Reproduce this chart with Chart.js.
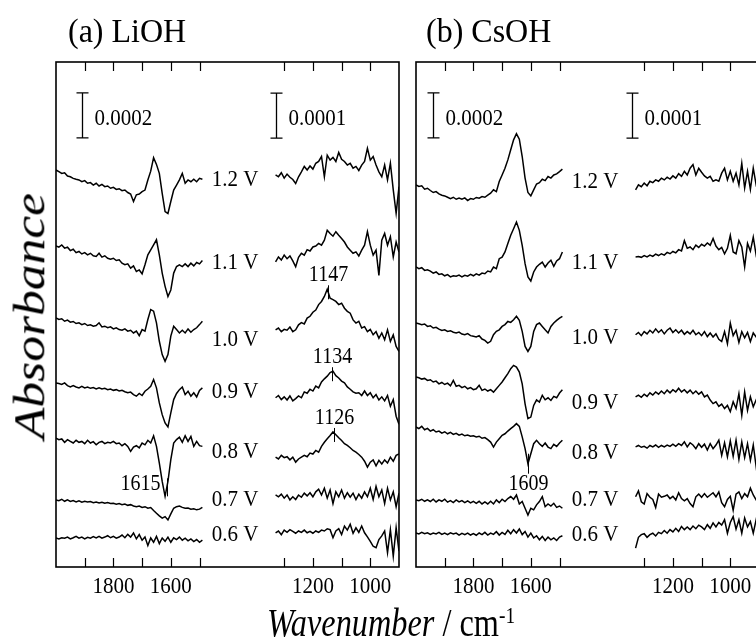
<!DOCTYPE html>
<html>
<head>
<meta charset="utf-8">
<script src="https://cdn.jsdelivr.net/npm/chart.js@4.4.1/dist/chart.umd.min.js"></script>
<style>
html, body { margin: 0; padding: 0; background: #fff; overflow: hidden; }
#wrap { position: relative; width: 756px; height: 644px; overflow: hidden; font-family: "Liberation Serif", "Times New Roman", serif; color: #000; }
#wrap canvas { position: absolute; top: 0; }
.lbl { position: absolute; white-space: nowrap; line-height: 1; }
.lbl sup { font-size: 60%; vertical-align: 0.55em; }
</style>
</head>
<body>
<div id="wrap">
  <canvas id="chartA" width="400" height="644" style="left:0"></canvas>
  <canvas id="chartB" width="400" height="644" style="left:400px"></canvas>
  <div class="lbl" style="left:68px;top:14px;font-size:32px;transform:scaleY(1.08)">(a) LiOH</div>
  <div class="lbl" style="left:426px;top:14px;font-size:32px;transform:scaleY(1.08)">(b) CsOH</div>
  <div class="lbl" style="left:30px;top:316px;font-size:46px;font-style:italic;transform:translate(-50%,-50%) rotate(-90deg) scale(1.12,0.95)">Absorbance</div>
  <div class="lbl" style="left:391px;top:623px;font-size:34px;transform:translate(-50%,-50%) scale(0.95,1.18)"><i>Wavenumber</i> / cm<sup>-1</sup></div>
</div>
<script>
// wavenumbers (cm-1) of the two spectral windows
const wnHigh = [2000, 1990, 1980, 1970, 1960, 1950, 1940, 1930, 1920, 1910,
                1900, 1890, 1880, 1870, 1860, 1850, 1840, 1830, 1820, 1810,
                1800, 1790, 1780, 1770, 1760, 1750, 1740, 1730, 1720, 1710,
                1700, 1690, 1680, 1670, 1660, 1650, 1640, 1630, 1620, 1610,
                1600, 1590, 1580, 1570, 1560, 1550, 1540, 1530, 1520, 1510,
                1500, 1490];
const wnLow = [1330, 1320, 1310, 1300, 1290, 1280, 1270, 1260, 1250, 1240,
               1230, 1220, 1210, 1200, 1190, 1180, 1170, 1160, 1150, 1140,
               1130, 1120, 1110, 1100, 1090, 1080, 1070, 1060, 1050, 1040,
               1030, 1020, 1010, 1000, 990, 980, 970, 960, 950, 940,
               930, 920, 910, 900];

const voltages = ['1.2 V', '1.1 V', '1.0 V', '0.9 V', '0.8 V', '0.7 V', '0.6 V'];

// absorbance in units of 1e-5, relative to each spectrum's own start
const liohHigh = [
  [0,-0.7,-1.5,-1.2,-2.7,-3,-3.7,-4.1,-4.4,-5.2, -4.7,-5.9,-5.6,-6.7,-5.9,-7.1,-6.4,-7.4,-7.1,-8.1, -7.7,-8.6,-8.3,-9.2,-8.9,-10,-10.7,-14,-11,-10.7, -9.6,-8.9,-4.4,-0.5,5.5,2.5,-1.5,-10.4,-18.5,-19.3, -14,-8.9,-6.7,-4.4,-1.5,-5.9,-4.4,-5.2,-4.1,-5.2, -3.7,-4.1],
  [0,-0.6,0.4,-1,-0.6,-2.1,-1.5,-3,-2.5,-3.6, -3,-4,-3.3,-4.4,-4.7,-3.3,-5,-4.4,-5.5,-5.9, -5.5,-6.5,-6.2,-7.7,-8.4,-8,-9.9,-8.9,-11.4,-10.7, -12.4,-8.4,-4,-1.8,0.4,2.7,-4,-12.1,-18,-22.5, -19.6,-12.1,-9.2,-8.4,-9.2,-8,-9.2,-7.7,-8.9,-7.4, -8,-6.5],
  [0,-0.7,-0.4,-1.5,-1,-1.9,-1.6,-2.5,-2.2,-3, -2.5,-3.4,-3.1,-3.7,-3.4,-2.2,-4,-3.7,-4.4,-4, -4.9,-4.4,-5.2,-5.5,-4.9,-5.9,-5.5,-6.7,-5.9,-7.9, -5.2,-5.9,-0.7,3.7,3,-2.2,-10.4,-16.3,-19.3,-16.3, -8.1,-3.7,-5.2,-6.7,-5.5,-6.7,-4.9,-6.4,-5.2,-4.4, -3,-1.5],
  [0,-0.3,-0.7,0,-1.2,-1.8,-1.2,-1.8,-2.2,-1.5, -2.2,-1.8,-2.4,-2.1,-2.7,-2.2,-2.7,-2.4,-3,-2.7, -3.3,-3,-3.6,-3.3,-3.9,-4.4,-4.1,-5.2,-5.9,-4.7, -5.6,-3.7,-2.7,-1.5,1.5,-2.2,-8.9,-14.1,-17.8,-19.6, -13.3,-7.4,-4.7,-3,-1.8,-5.2,-3.7,-5.9,-4.4,-6.2, -3.3,-2.2],
  [0,-0.7,-0.4,-1.9,-0.7,-1.5,-2.2,-1,-1.9,-1.5, -2.5,-1,-2.2,-1.6,-3,-1.9,-1.5,-2.5,-1.9,-2.2, -1.5,-2.5,-2.2,-3.4,-2.5,-3.7,-5.9,-4,-3.4,-4.4, -2.2,-3,-1,-2.2,1,-3.7,-11.1,-19.3,-25.9,-19.3, -9.6,-2.2,-0.7,0.4,-1.9,1,-1.5,0.7,-3.7,-1.5, -3.4,-3.7],
  [0,-0.3,0.3,-0.6,0,-0.7,-0.3,-0.9,-0.4,-1, -0.6,-0.9,-0.7,-1.2,-0.9,-1.3,-1,-1.5,-1.2,-1.6, -1.5,-1.9,-1.6,-2.1,-1.8,-2.4,-2.1,-2.7,-3,-2.7, -3.3,-3,-3.7,-3.4,-4.7,-5.9,-7.1,-8.1,-7.4,-8.9, -6.2,-3.7,-3,-2.7,-3.3,-3.7,-3.6,-4.1,-3.9,-4.4, -4.1,-3.3],
  [0,-0.4,0.1,-0.1,0.4,-0.4,0.1,0.7,-0.1,0.4, -0.4,0.3,-0.1,0.6,0,0.7,-0.1,0.4,1,0.1, 0.7,-0.1,0.4,1.3,0.1,1.6,0.4,2.2,-0.4,1.5, -1,0.4,-3.4,0,-1.9,0.7,-2.5,0,-1.5,0.4, -1.9,0.1,-0.7,0.4,-1,-0.1,-1.3,-0.4,-1.6,-0.7, -1.9,-1]
];
const liohLow = [
  [0,-0.4,0.5,-0.7,0.2,-0.5,-1,-1.9,-0.4,0.7, 1.9,1.1,2,1.3,2.6,3,4.1,-0.4,4.4,3.3, 3.9,3,5,3.5,3,2.2,2.6,1.5,1.9,1, 2.2,3,5.9,3.3,4.1,2.2,0.7,-0.4,2.2,-1.1, 2.6,-3.3,-8.5,-2.6],
  [0,1.1,0.4,1.5,0.7,1.3,0.2,-1.1,1,1.9, 1.5,2.7,2.4,3.3,3.5,4.1,3.7,4.8,7,6.3, 5.7,6.7,5.9,5.2,4.4,3.3,2.6,1.9,2.2,1.3, 2.6,3.7,6.7,3.7,1.5,2.6,-3,4.8,6.3,3.7, 5.6,1.1,4.4,2.2],
  [0,0.4,-0.4,0.1,-0.1,0.6,-0.4,0,1.1,1.6, 1.3,2.6,3,3.9,4.4,5.6,6.3,7.4,9,7, 6.7,6.3,5.6,5.9,4.8,4.1,3.7,2.2,1.5,1.9, 0.4,0.7,-0.4,0.1,-1.1,-0.4,-1.9,-0.7,-2.2,0, -2.6,-1.1,-3.7,-4.8],
  [0,0.5,-0.4,0.2,-0.5,0.4,-0.7,-0.2,0.4,0, 1.3,1,1.9,1.5,2.6,2.2,3.5,4.2,4.8,5.6, 5.9,4.9,4.4,3.7,3.3,2.4,1.9,1.3,1,1.1, 0.5,1.5,0.5,1.1,0,0.7,-0.5,0.2,-0.7,0.5, -1.9,-0.4,-4.1,-5.9],
  [0,-0.4,0.4,-0.1,0.1,-0.6,0,-1.1,-0.4,0, 0.4,0.1,0.9,0.7,1.5,1.1,2.4,3.3,4.1,4.8, 5.6,5,4.3,3.7,3,2.6,2.1,1.5,1.1,0.6, 0,-0.9,-2.2,-1.1,-0.6,-1.9,-0.7,-1.5,-0.6,-1.3, 0,-0.9,0.4,0.7],
  [0,-0.4,0.2,-0.7,0,-1.1,-0.4,-1,0,-0.5, 0.4,-0.2,0.5,-0.4,0.7,1.3,0,1.5,-0.7,1.1, -1.9,0.7,-0.4,1.1,-0.7,0.5,-0.5,0.4,-1,0.2, -0.7,0.7,-0.4,1.5,-1,1.9,-0.4,1.1,-1.9,1.5, -1.1,0.7,-2.6,0.4],
  [0,0.4,-0.4,0.6,0.1,0.7,0.3,-0.1,0.4,0.1, 0.6,0,0.3,-0.1,0.4,0.1,0.6,0.4,0.9,0.7, -1.1,0.4,0.9,-0.4,1.5,0.6,1.9,-0.1,1.1,0.1, 1.5,0,-0.9,-1.9,-3,-3.3,-1.5,-0.7,0.4,-4.4, 0.7,-5.2,1.1,-4.1]
];
const csohHigh = [
  [0,-0.7,-0.4,-1.9,-1.5,-2.5,-3.4,-3,-4,-4.6, -4.9,-5.5,-6.1,-5.5,-6.4,-5.9,-6.4,-5.8,-7,-6.1, -6.4,-5.6,-5.9,-5.2,-5.5,-4.6,-3.7,-2.2,-3,1.5, 4.4,7.4,11.1,15.6,20,22.7,20.3,12.6,3,-3.4, -4.9,-2.2,0.4,1,2.5,1.9,3.7,3,4.4,4.9, 5.9,7],
  [0,-0.7,-0.3,-1.5,-1.2,-1.8,-2.7,-2.2,-3.3,-3, -3.9,-3.4,-4.4,-3.9,-4.1,-3.6,-4.4,-3.7,-4.1,-3.3, -3.9,-3,-3.6,-2.7,-3,-1.8,-2.2,0,-0.7,3.7, 4.4,6.7,10.4,14.1,17,20,16.3,9.6,1.5,-4.4, -6.2,-2.2,0,1.2,2.2,0,1.8,3,0.3,2.7, 3.7,6.7],
  [0,-0.3,-0.7,-0.4,-1.5,-1.2,-2.2,-1.9,-2.7,-3.3, -3,-3.7,-3.4,-4.1,-4.4,-4,-4.9,-5.2,-4.7,-5.6, -5.9,-6.2,-5.6,-7.1,-7.7,-8.9,-8.1,-5.2,-3.7,-3, -1.5,-0.7,0.7,0.3,1.5,3,1.2,-3.7,-10.4,-12.6, -10.4,-3.7,-0.7,0,-1.5,-3,-4.4,-1.5,0,1.2, 2.2,3],
  [0,-0.3,-0.9,-0.6,-1.5,-1.2,-2.2,-1.8,-3,-2.4, -3.3,-2.7,-3.9,-1.5,-4.1,-3.7,-4.7,-4.1,-5.2,-4.7, -5.6,-5.2,-3.7,-5.9,-5.3,-6.2,-5.6,-6.7,-5.2,-3.7, -2.2,-0.3,1.5,3.7,5.2,4.4,2.2,-3,-11.9,-18.5, -17.8,-12.6,-10.1,-11.1,-8.1,-10.1,-9.2,-10.4,-8.6,-9.2, -7.1,-5.6],
  [0,-0.7,0.3,-1.2,-0.6,-1.8,-1.2,-2.2,-1.8,-2.7, -2.1,-3,-2.4,-3.3,-2.8,-3.6,-3.1,-3.9,-3.6,-4.1, -3.9,-4.4,-4.1,-5,-4.7,-5.6,-6.7,-8.9,-6.7,-5.2, -3.7,-3,-1.8,-0.7,0.3,1.5,0.3,-4.4,-9.6,-16.3, -11.9,-7.4,-5.9,-7.4,-8.6,-7.1,-8.9,-9.6,-7.7,-8.6, -7.1,-5.9],
  [0,-0.3,0.3,-0.6,0,-0.7,0.3,-0.9,0,-0.6, 0.3,-1,-0.3,-1.2,0,-0.9,-0.3,-1.2,-0.4,-1.3, -0.6,-1.5,-0.6,-1.8,-0.9,-1.8,-0.6,-1.8,0,-1.2, 0.3,-0.7,0.6,1.5,0.3,2.2,-1.8,-0.7,-3.7,-6.7, -3.7,-4.4,-2.2,-0.7,1.5,-3,-1.8,-2.7,-1.5,-3.3, -2.7,-3.7],
  [0,-0.4,0.3,-0.3,0.1,-0.6,0,-0.4,0.3,-0.6, 0,-0.7,0.1,-0.4,0,-0.9,-0.1,-0.7,0,-0.9, -0.3,-1,0,-0.7,0.3,-0.9,0,-0.6,0.6,-0.9, 0.3,-0.6,1.2,-0.3,1.5,0,1.8,-0.7,0.7,-1.8, 0,-2.2,-1.2,-3,-1.5,-3.3,-1.8,-3,-2.2,-3.3, -1.8,-1.2]
];
const csohLow = [
  [0,1.1,0.7,1.5,0.9,1.9,1.6,2.2,1.9,2.6, 2.2,2.8,2.4,3.1,2.6,3.6,3,4.1,3.3,4.8, 5.6,3.3,4.8,3.9,3.1,2.6,3,1.9,2.2,1.9, 3.7,4.8,2.2,4.1,1.9,3.7,1.1,5.9,0.4,4.1, 0.1,4.8,1.1,2.2],
  [0,0.1,-0.1,0.3,0,0.4,0.1,0.6,0.3,0.7, 0.4,1,0.7,1.2,0.9,1.6,1.3,3.6,1.9,2.2, 1.6,2.6,2.1,2.8,2.4,3.1,2.6,4.1,2.4,1.6, 2.1,0.7,1.9,4.8,1.1,0.7,3.6,2.2,-2.2,3, 1.3,4.4,0.4,1.9],
  [0,0.5,-0.2,0.7,0.2,1,0.4,1.3,0.5,1.1, 0.2,1,1.5,0.5,1.1,0.4,1,0.1,0.7,0.2, 1,0,0.5,-0.2,0.7,-0.4,0.4,-0.5,0.2,-1, -1.5,0.7,-2,2.6,-0.2,1,-1.7,0.7,-0.7,0.5, -1.5,0.4,-0.5,0],
  [0,0.4,-0.1,0.6,0.1,0.9,0.4,1.1,0.6,1.3, 0.7,1.5,0.9,1.6,1.1,1.9,1.1,1.6,0.9,1.5, 0.7,1.3,0.6,1.1,0,0.4,-0.7,-1.5,-1.1,-2.1, -1.6,-2.6,-1.9,-3.3,-1.1,-2.6,0.7,-4.1,1.1,-3, 0,-2.2,-0.7,-1.5],
  [0,0.3,-0.1,0.1,-0.3,0.3,0,0.4,-0.1,0.3, 0,0.4,0.1,0.6,0.1,0.7,0.3,1.1,0,0.9, 0.4,-0.4,0.7,-0.1,0.6,-0.7,0.7,-0.4,0.4,1.5, -1.9,0.9,-2.2,1.3,-2.1,1.5,-2.8,1.1,-2.4,0.7, -3,0.4,-4.4,-0.7],
  [0,1.3,-1.1,-1.6,0.7,-0.1,-0.6,-2.4,0.6,-0.1, 0.1,0.4,-0.4,0.1,-0.7,0.9,-0.4,-0.9,-0.4,-1.5, -2.2,0,0.6,-0.1,0.7,-0.1,0.4,0.9,0,1.1, -1.3,-2.2,-0.6,0.1,-3,0.6,1.1,-0.4,0.7,0, 1.9,0.4,-0.7,0.7],
  [0,2.4,3,3.2,2.4,3,3.3,2.7,3.5,3.2, 3.9,3.3,4.1,3.6,4.4,3.7,4.8,4.1,4.7,4.1, 4.9,4.3,5.1,4.7,4.1,5.2,4.4,5.6,4.7,5.7, 5.1,6.3,3.3,5.7,7,4.2,6.3,3.3,6.7,4.7, 5.9,3.3,6.3,4.4]
];

// vertical stacking offsets (same 1e-5 units)
const liohHighOffset = [176.4, 142.7, 110.7, 81.8, 57.3, 29.8, 12.9];
const liohLowOffset  = [87.1, 67.8, 52.7, 37.6, 24.4, 16, 7.6];
const csohHighOffset = [169.8, 133.3, 108.4, 84.4, 62.2, 29.8, 15.1];
const csohLowOffset  = [83.8, 68.9, 51.6, 37.8, 26.7, 15.6, 4.2];

const ticksHigh = [1900, 1800, 1700, 1600, 1500];
const ticksLow = [1300, 1200, 1100, 1000];
const tickLabels = [1800, 1600, 1200, 1000];

const dataUnit = 1e-5;
const barHigh = 0.0002;
const barLow = 0.0001;

function buildDatasets(high, highOff, low, lowOff) {
  const sets = [];
  high.forEach((vals, i) => sets.push({
    data: vals.map((v, k) => ({ x: wnHigh[k], y: highOff[i] + v })),
    xAxisID: 'xh', yAxisID: 'yh'
  }));
  low.forEach((vals, i) => sets.push({
    data: vals.map((v, k) => ({ x: wnLow[k], y: lowOff[i] + v })),
    xAxisID: 'xl', yAxisID: 'yl'
  }));
  return sets;
}

// text drawn a little taller than wide, like the scanned figure
function tallText(ctx, txt, x, y) {
  ctx.save();
  ctx.translate(x, y);
  ctx.scale(1, 1.12);
  ctx.fillText(txt, 0, 0);
  ctx.restore();
}

const decor = {
  id: 'decor',
  afterDatasetsDraw(chart, args, o) {
    const ctx = chart.ctx, a = chart.chartArea;
    const { xh, xl, yh, yl } = chart.scales;
    ctx.save();
    ctx.strokeStyle = '#000';
    ctx.fillStyle = '#000';
    ctx.lineWidth = 1.6;
    ctx.strokeRect(a.left, a.top, a.right - a.left, a.bottom - a.top);

    ctx.lineWidth = 1.2;
    const tl = 9;
    [[xh, ticksHigh], [xl, ticksLow]].forEach(([s, list]) => list.forEach(t => {
      const x = Math.round(s.getPixelForValue(t)) + 0.5;
      ctx.beginPath();
      ctx.moveTo(x, a.top); ctx.lineTo(x, a.top + tl);
      ctx.moveTo(x, a.bottom); ctx.lineTo(x, a.bottom - tl);
      ctx.stroke();
    }));

    ctx.font = '21px "Liberation Serif"';
    ctx.textAlign = 'center';
    ctx.textBaseline = 'middle';
    tickLabels.forEach(t => {
      const s = t > 1400 ? xh : xl;
      tallText(ctx, String(t), s.getPixelForValue(t), a.bottom + 20);
    });

    // scale bars
    ctx.lineWidth = 1.3;
    [[xh, yh, o.barHighAt, barHigh], [xl, yl, o.barLowAt, barLow]].forEach(([sx, sy, at, size]) => {
      const x = Math.round(sx.getPixelForValue(at[0])) + 0.5;
      const y0 = sy.getPixelForValue(at[1]);
      const y1 = sy.getPixelForValue(at[1] + size / dataUnit);
      ctx.beginPath();
      ctx.moveTo(x, y0); ctx.lineTo(x, y1);
      ctx.moveTo(x - 6, y0); ctx.lineTo(x + 6, y0);
      ctx.moveTo(x - 6, y1); ctx.lineTo(x + 6, y1);
      ctx.stroke();
      ctx.textAlign = 'left';
      tallText(ctx, size.toFixed(4), x + 12, (y0 + y1) / 2 + 3);
    });

    // voltage labels
    ctx.textAlign = 'left';
    voltages.forEach((v, i) => tallText(ctx, v, xh.getPixelForValue(o.labelAt), o.labelY[i]));

    // peak markers
    ctx.font = '20px "Liberation Serif"';
    ctx.lineWidth = 1;
    o.peaks.forEach(p => {
      const low = p.seg === 'low';
      const sx = low ? xl : xh, sy = low ? yl : yh;
      const wn = low ? wnLow : wnHigh;
      const vals = p.source[p.trace], offs = p.offsets[p.trace];
      let k = 0;
      wn.forEach((w, j) => { if (Math.abs(w - p.wn) < Math.abs(wn[k] - p.wn)) k = j; });
      const x = Math.round(sx.getPixelForValue(p.wn)) + 0.5;
      const y = sy.getPixelForValue(offs + vals[k]);
      ctx.beginPath();
      if (p.pos === 'above') {
        ctx.moveTo(x, y - 4); ctx.lineTo(x, y + 10); ctx.stroke();
        ctx.textAlign = 'center';
        tallText(ctx, String(p.wn), x, y - 14);
      } else if (p.pos === 'left') {
        ctx.moveTo(x, y - 18); ctx.lineTo(x, y); ctx.stroke();
        ctx.textAlign = 'right';
        tallText(ctx, String(p.wn), x - 7, y - 12);
      } else {
        ctx.moveTo(x, y - 10); ctx.lineTo(x, y + 10); ctx.stroke();
        ctx.textAlign = 'center';
        tallText(ctx, String(p.wn), x, y + 20);
      }
    });
    ctx.restore();
  }
};

function makeChart(id, sets, pad, deco) {
  return new Chart(document.getElementById(id), {
    type: 'line',
    data: { datasets: sets },
    options: {
      responsive: false,
      animation: false,
      events: [],
      layout: { padding: pad },
      elements: {
        line: { borderColor: '#000', borderWidth: 1.5, tension: 0, fill: false },
        point: { radius: 0 }
      },
      scales: {
        xh: { type: 'linear', axis: 'x', reverse: true, min: 805, max: 2000, display: false },
        xl: { type: 'linear', axis: 'x', reverse: true, min: 900, max: 2095, display: false },
        yh: { type: 'linear', axis: 'y', min: 0, max: 224.4, display: false },
        yl: { type: 'linear', axis: 'y', min: 0, max: 112.2, display: false }
      },
      plugins: {
        legend: { display: false },
        tooltip: { enabled: false },
        decor: deco
      }
    },
    plugins: [decor]
  });
}

makeChart('chartA', buildDatasets(liohHigh, liohHighOffset, liohLow, liohLowOffset),
  { left: 56, top: 62, right: 1, bottom: 77 },
  {
    barHighAt: [1909, 190.7], barLowAt: [1327, 95.3],
    labelAt: 1457,
    labelY: [180, 263, 340, 392, 452, 500, 535],
    peaks: [
      { seg: 'low', trace: 2, wn: 1147, pos: 'above', source: liohLow, offsets: liohLowOffset },
      { seg: 'low', trace: 3, wn: 1134, pos: 'above', source: liohLow, offsets: liohLowOffset },
      { seg: 'low', trace: 4, wn: 1126, pos: 'above', source: liohLow, offsets: liohLowOffset },
      { seg: 'high', trace: 4, wn: 1615, pos: 'left', source: liohHigh, offsets: liohHighOffset }
    ]
  });

makeChart('chartB', buildDatasets(csohHigh, csohHighOffset, csohLow, csohLowOffset),
  { left: 16, top: 62, right: 41, bottom: 77 },
  {
    barHighAt: [1941, 190.7], barLowAt: [1341, 95.3],
    labelAt: 1457,
    labelY: [182, 263, 338, 403, 453, 500, 535],
    peaks: [
      { seg: 'high', trace: 4, wn: 1609, pos: 'below', source: csohHigh, offsets: csohHighOffset }
    ]
  });
</script>
</body>
</html>
